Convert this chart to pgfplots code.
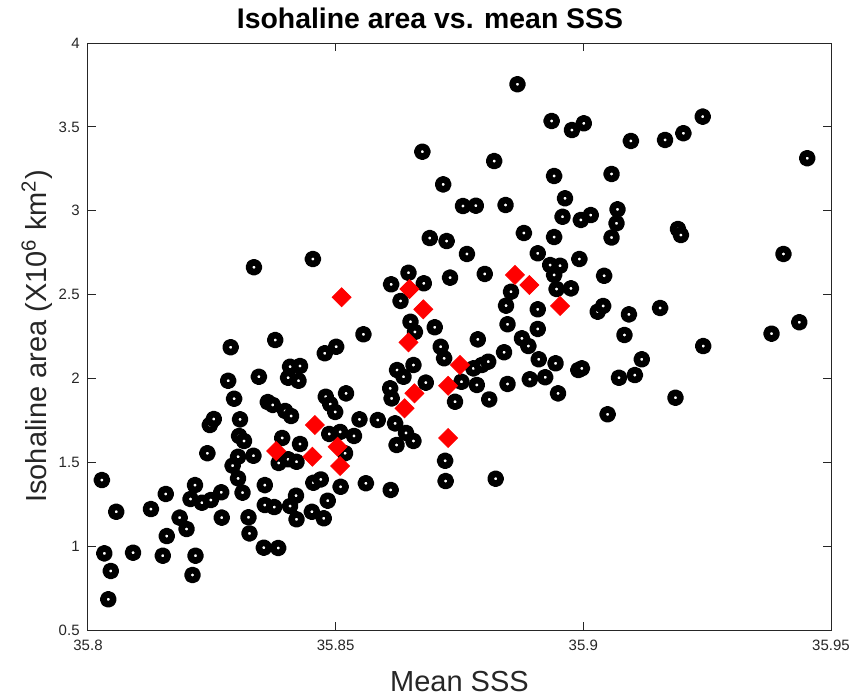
\documentclass[border=0pt]{standalone}
\usepackage{fontspec}
\setmainfont{Liberation Sans}
\usepackage{pgfplots}
\usepackage{pgfplotstable}
\pgfplotsset{compat=1.18}
\definecolor{axgray}{rgb}{0.15,0.15,0.15}
\pgfplotstableread{
x y
35.8867 3.754
35.8936 3.535
35.8977 3.481
35.9001 3.521
35.9096 3.416
35.9165 3.422
35.9202 3.462
35.9241 3.561
35.9452 3.313
35.8675 3.352
35.8820 3.296
35.8941 3.207
35.9057 3.219
35.8717 3.157
35.8963 3.074
35.8757 3.028
35.8783 3.030
35.8843 3.034
35.9069 3.008
35.9067 2.925
35.8958 2.964
35.8995 2.945
35.9015 2.974
35.8880 2.867
35.8941 2.843
35.9057 2.840
35.8690 2.837
35.8724 2.819
35.9191 2.891
35.9197 2.855
35.8765 2.742
35.8454 2.712
35.8335 2.663
35.8647 2.630
35.8612 2.561
35.8678 2.567
35.8731 2.601
35.8631 2.462
35.8651 2.338
35.8660 2.277
35.8700 2.305
35.8556 2.263
35.8378 2.229
35.8288 2.186
35.8712 2.189
35.8501 2.189
35.8478 2.150
35.8719 2.120
35.8408 2.070
35.8428 2.074
35.8404 2.004
35.8425 1.986
35.8624 2.050
35.8657 2.080
35.8637 2.010
35.8682 1.975
35.8610 1.941
35.8754 1.980
35.8741 1.861
35.8480 1.891
35.8521 1.911
35.8613 1.881
35.8489 1.847
35.8499 1.800
35.8398 1.806
35.8410 1.776
35.8548 1.756
35.8585 1.752
35.8620 1.732
35.8487 1.669
35.8509 1.681
35.8537 1.657
35.8642 1.675
35.8657 1.627
35.8283 1.986
35.8345 2.010
35.8295 1.879
35.8363 1.859
35.8373 1.842
35.8307 1.756
35.8246 1.722
35.8254 1.758
35.8305 1.657
35.8315 1.627
35.8392 1.645
35.8908 2.746
35.8992 2.712
35.8933 2.676
35.8953 2.672
35.8941 2.617
35.8801 2.623
35.8854 2.517
35.8946 2.533
35.8975 2.537
35.9042 2.612
35.8844 2.434
35.8908 2.412
35.9029 2.398
35.9040 2.432
35.9092 2.382
35.9155 2.420
35.8847 2.323
35.8908 2.295
35.8787 2.233
35.8876 2.239
35.8889 2.193
35.9083 2.259
35.8840 2.156
35.9118 2.114
35.8778 2.060
35.8795 2.080
35.8808 2.100
35.8785 1.961
35.8847 1.967
35.8910 2.114
35.8944 2.090
35.8892 1.995
35.8923 2.007
35.8990 2.050
35.8997 2.060
35.9072 2.004
35.9104 2.020
35.8949 1.911
35.8810 1.875
35.9049 1.786
35.9404 2.742
35.9436 2.335
35.9380 2.267
35.9242 2.193
35.9186 1.885
35.8028 1.394
35.8057 1.205
35.8033 0.957
35.8046 0.852
35.8041 0.683
35.8091 0.961
35.8127 1.221
35.8157 1.311
35.8151 0.943
35.8159 1.060
35.8185 1.170
35.8199 1.102
35.8216 1.364
35.8207 1.281
35.8230 1.259
35.8248 1.275
35.8269 1.321
35.8217 0.943
35.8211 0.828
35.8270 1.170
35.8241 1.554
35.8303 1.533
35.8334 1.539
35.8292 1.480
35.8303 1.404
35.8312 1.319
35.8357 1.364
35.8324 1.172
35.8326 1.076
35.8357 1.245
35.8376 1.233
35.8355 0.991
35.8384 0.989
35.8385 1.496
35.8428 1.609
35.8404 1.518
35.8421 1.503
35.8519 1.554
35.8455 1.378
35.8470 1.398
35.8510 1.354
35.8561 1.375
35.8611 1.335
35.8623 1.603
35.8721 1.509
35.8722 1.388
35.8420 1.301
35.8408 1.239
35.8421 1.160
35.8452 1.205
35.8484 1.271
35.8476 1.166
35.8823 1.402
}\blackdata
\pgfplotstableread{
x y
35.8649 2.533
35.8512 2.484
35.8677 2.412
35.8647 2.215
35.8751 2.080
35.8727 1.956
35.8659 1.911
35.8639 1.822
35.8458 1.722
35.8727 1.645
35.8380 1.567
35.8453 1.533
35.8504 1.593
35.8509 1.478
35.8862 2.617
35.8891 2.557
35.8953 2.432
}\reddata
\begin{document}
\begin{tikzpicture}
\useasboundingbox (-44pt,-33.5pt) rectangle (386.5pt,315pt);
\begin{axis}[
  scale only axis, width=371.5pt, height=293.5pt,
  xmin=35.8, xmax=35.95, ymin=0.5, ymax=4,
  xtick={35.8,35.85,35.9,35.95},
  xticklabels={35.8,35.85,35.9,35.95},
  ytick={0.5,1,1.5,2,2.5,3,3.5,4},
  yticklabels={0.5,1,1.5,2,2.5,3,3.5,4},
  scaled x ticks=false, scaled y ticks=false,
  tick align=inside, major tick length=4pt,
  axis line style={axgray, line width=0.5pt},
  every tick/.style={axgray, line width=0.5pt},
  tick label style={font=\fontsize{7.5pt}{9pt}\selectfont, text=axgray},
  xticklabel style={anchor=base, yshift=-10pt, inner sep=0pt},
  yticklabel style={anchor=east, xshift=-4pt, inner sep=0pt},
  title={Isohaline area vs. mean SSS},
  every axis title/.style={at={(axis description cs:0.4603,1.0239)}, anchor=base, font=\bfseries\fontsize{14.2pt}{16pt}\selectfont, inner sep=0pt},
  xlabel={Mean SSS},
  xlabel style={at={(axis description cs:0.5,-0.1056)}, anchor=base, font=\fontsize{14.5pt}{16pt}\selectfont, text=axgray, inner sep=0pt},
  ylabel={Isohaline area (X10\textsuperscript{6} km\textsuperscript{2})},
  ylabel style={at={(axis description cs:-0.0565,0.5)}, anchor=base, font=\fontsize{14.5pt}{16pt}\selectfont, text=axgray, inner sep=0pt},
]
\addplot[only marks, mark=*, mark size=2.55pt, mark options={draw=black, fill=white, line width=3.3pt, line join=round}] table[x=x,y=y] {\blackdata};
\addplot[only marks, mark=square*, mark size=3.35pt, mark options={draw=red, fill=red, line width=0.4pt, rotate=45}] table[x=x,y=y] {\reddata};
\end{axis}
\end{tikzpicture}
\end{document}
